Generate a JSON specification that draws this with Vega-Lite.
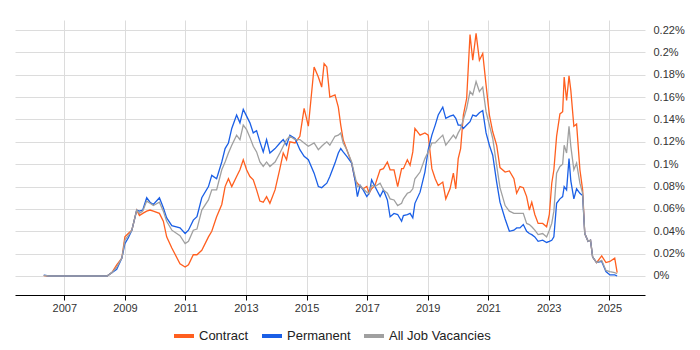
{
  "$schema": "https://vega.github.io/schema/vega-lite/v6.json",
  "width": 630,
  "height": 275,
  "autosize": "none",
  "padding": {"left": 15, "top": 20, "right": 55, "bottom": 55},
  "background": "white",
  "config": {
    "view": {"stroke": null},
    "font": "Liberation Sans"
  },
  "data": {
    "values": [
      {"t": 2006.32, "Contract": 0.0003, "Permanent": 0.0008, "All Job Vacancies": 0.0005},
      {"t": 2006.5, "Contract": 0, "Permanent": 0, "All Job Vacancies": 0},
      {"t": 2008.41, "Contract": 0, "Permanent": 0, "All Job Vacancies": 0},
      {"t": 2008.57, "Contract": 0.003, "Permanent": 0.003, "All Job Vacancies": 0.003},
      {"t": 2008.73, "Contract": 0.010, "Permanent": 0.006, "All Job Vacancies": 0.008},
      {"t": 2008.90, "Contract": 0.016, "Permanent": 0.016, "All Job Vacancies": 0.016},
      {"t": 2009.00, "Contract": 0.035, "Permanent": 0.029, "All Job Vacancies": 0.032},
      {"t": 2009.11, "Contract": 0.038, "Permanent": 0.034, "All Job Vacancies": 0.036},
      {"t": 2009.23, "Contract": 0.041, "Permanent": 0.041, "All Job Vacancies": 0.041},
      {"t": 2009.39, "Contract": 0.059, "Permanent": 0.059, "All Job Vacancies": 0.059},
      {"t": 2009.48, "Contract": 0.054, "Permanent": 0.058, "All Job Vacancies": 0.056},
      {"t": 2009.59, "Contract": 0.056, "Permanent": 0.059, "All Job Vacancies": 0.058},
      {"t": 2009.72, "Contract": 0.058, "Permanent": 0.070, "All Job Vacancies": 0.067},
      {"t": 2009.83, "Contract": 0.059, "Permanent": 0.066, "All Job Vacancies": 0.065},
      {"t": 2009.94, "Contract": 0.058, "Permanent": 0.064, "All Job Vacancies": 0.063},
      {"t": 2010.14, "Contract": 0.056, "Permanent": 0.070, "All Job Vacancies": 0.066},
      {"t": 2010.27, "Contract": 0.049, "Permanent": 0.061, "All Job Vacancies": 0.058},
      {"t": 2010.38, "Contract": 0.035, "Permanent": 0.052, "All Job Vacancies": 0.049},
      {"t": 2010.55, "Contract": 0.025, "Permanent": 0.045, "All Job Vacancies": 0.041},
      {"t": 2010.82, "Contract": 0.011, "Permanent": 0.043, "All Job Vacancies": 0.036},
      {"t": 2010.99, "Contract": 0.008, "Permanent": 0.038, "All Job Vacancies": 0.029},
      {"t": 2011.10, "Contract": 0.010, "Permanent": 0.041, "All Job Vacancies": 0.031},
      {"t": 2011.26, "Contract": 0.019, "Permanent": 0.050, "All Job Vacancies": 0.041},
      {"t": 2011.38, "Contract": 0.019, "Permanent": 0.053, "All Job Vacancies": 0.042},
      {"t": 2011.54, "Contract": 0.023, "Permanent": 0.070, "All Job Vacancies": 0.059},
      {"t": 2011.76, "Contract": 0.035, "Permanent": 0.080, "All Job Vacancies": 0.068},
      {"t": 2011.87, "Contract": 0.040, "Permanent": 0.090, "All Job Vacancies": 0.077},
      {"t": 2012.03, "Contract": 0.053, "Permanent": 0.087, "All Job Vacancies": 0.077},
      {"t": 2012.20, "Contract": 0.064, "Permanent": 0.102, "All Job Vacancies": 0.095},
      {"t": 2012.31, "Contract": 0.080, "Permanent": 0.114, "All Job Vacancies": 0.102},
      {"t": 2012.42, "Contract": 0.087, "Permanent": 0.119, "All Job Vacancies": 0.110},
      {"t": 2012.53, "Contract": 0.080, "Permanent": 0.132, "All Job Vacancies": 0.117},
      {"t": 2012.69, "Contract": 0.089, "Permanent": 0.144, "All Job Vacancies": 0.126},
      {"t": 2012.80, "Contract": 0.095, "Permanent": 0.137, "All Job Vacancies": 0.122},
      {"t": 2012.91, "Contract": 0.104, "Permanent": 0.149, "All Job Vacancies": 0.135},
      {"t": 2013.02, "Contract": 0.095, "Permanent": 0.143, "All Job Vacancies": 0.131},
      {"t": 2013.13, "Contract": 0.089, "Permanent": 0.137, "All Job Vacancies": 0.124},
      {"t": 2013.24, "Contract": 0.086, "Permanent": 0.128, "All Job Vacancies": 0.116},
      {"t": 2013.35, "Contract": 0.077, "Permanent": 0.130, "All Job Vacancies": 0.111},
      {"t": 2013.46, "Contract": 0.067, "Permanent": 0.120, "All Job Vacancies": 0.102},
      {"t": 2013.57, "Contract": 0.066, "Permanent": 0.111, "All Job Vacancies": 0.098},
      {"t": 2013.68, "Contract": 0.071, "Permanent": 0.122, "All Job Vacancies": 0.102},
      {"t": 2013.79, "Contract": 0.065, "Permanent": 0.110, "All Job Vacancies": 0.098},
      {"t": 2013.96, "Contract": 0.077, "Permanent": 0.114, "All Job Vacancies": 0.102},
      {"t": 2014.12, "Contract": 0.096, "Permanent": 0.119, "All Job Vacancies": 0.110},
      {"t": 2014.23, "Contract": 0.110, "Permanent": 0.122, "All Job Vacancies": 0.116},
      {"t": 2014.34, "Contract": 0.104, "Permanent": 0.117, "All Job Vacancies": 0.122},
      {"t": 2014.45, "Contract": 0.120, "Permanent": 0.126, "All Job Vacancies": 0.125},
      {"t": 2014.62, "Contract": 0.119, "Permanent": 0.123, "All Job Vacancies": 0.122},
      {"t": 2014.78, "Contract": 0.125, "Permanent": 0.113, "All Job Vacancies": 0.122},
      {"t": 2014.92, "Contract": 0.150, "Permanent": 0.107, "All Job Vacancies": 0.119},
      {"t": 2015.06, "Contract": 0.134, "Permanent": 0.104, "All Job Vacancies": 0.116},
      {"t": 2015.25, "Contract": 0.187, "Permanent": 0.092, "All Job Vacancies": 0.119},
      {"t": 2015.39, "Contract": 0.178, "Permanent": 0.080, "All Job Vacancies": 0.113},
      {"t": 2015.50, "Contract": 0.169, "Permanent": 0.079, "All Job Vacancies": 0.116},
      {"t": 2015.58, "Contract": 0.190, "Permanent": 0.081, "All Job Vacancies": 0.118},
      {"t": 2015.67, "Contract": 0.187, "Permanent": 0.083, "All Job Vacancies": 0.120},
      {"t": 2015.77, "Contract": 0.160, "Permanent": 0.089, "All Job Vacancies": 0.117},
      {"t": 2015.94, "Contract": 0.162, "Permanent": 0.101, "All Job Vacancies": 0.125},
      {"t": 2016.05, "Contract": 0.151, "Permanent": 0.110, "All Job Vacancies": 0.126},
      {"t": 2016.13, "Contract": 0.135, "Permanent": 0.114, "All Job Vacancies": 0.128},
      {"t": 2016.21, "Contract": 0.122, "Permanent": 0.111, "All Job Vacancies": 0.119},
      {"t": 2016.33, "Contract": 0.113, "Permanent": 0.107, "All Job Vacancies": 0.113},
      {"t": 2016.49, "Contract": 0.101, "Permanent": 0.101, "All Job Vacancies": 0.102},
      {"t": 2016.60, "Contract": 0.086, "Permanent": 0.086, "All Job Vacancies": 0.089},
      {"t": 2016.68, "Contract": 0.083, "Permanent": 0.071, "All Job Vacancies": 0.080},
      {"t": 2016.77, "Contract": 0.080, "Permanent": 0.081, "All Job Vacancies": 0.081},
      {"t": 2016.87, "Contract": 0.078, "Permanent": 0.077, "All Job Vacancies": 0.078},
      {"t": 2016.99, "Contract": 0.080, "Permanent": 0.071, "All Job Vacancies": 0.075},
      {"t": 2017.07, "Contract": 0.074, "Permanent": 0.074, "All Job Vacancies": 0.074},
      {"t": 2017.15, "Contract": 0.078, "Permanent": 0.086, "All Job Vacancies": 0.081},
      {"t": 2017.26, "Contract": 0.081, "Permanent": 0.080, "All Job Vacancies": 0.080},
      {"t": 2017.43, "Contract": 0.095, "Permanent": 0.071, "All Job Vacancies": 0.083},
      {"t": 2017.54, "Contract": 0.096, "Permanent": 0.077, "All Job Vacancies": 0.077},
      {"t": 2017.67, "Contract": 0.102, "Permanent": 0.068, "All Job Vacancies": 0.074},
      {"t": 2017.76, "Contract": 0.095, "Permanent": 0.053, "All Job Vacancies": 0.069},
      {"t": 2017.89, "Contract": 0.095, "Permanent": 0.056, "All Job Vacancies": 0.068},
      {"t": 2018.01, "Contract": 0.080, "Permanent": 0.055, "All Job Vacancies": 0.063},
      {"t": 2018.14, "Contract": 0.096, "Permanent": 0.049, "All Job Vacancies": 0.065},
      {"t": 2018.20, "Contract": 0.096, "Permanent": 0.054, "All Job Vacancies": 0.069},
      {"t": 2018.33, "Contract": 0.104, "Permanent": 0.055, "All Job Vacancies": 0.074},
      {"t": 2018.42, "Contract": 0.099, "Permanent": 0.056, "All Job Vacancies": 0.075},
      {"t": 2018.51, "Contract": 0.111, "Permanent": 0.052, "All Job Vacancies": 0.078},
      {"t": 2018.58, "Contract": 0.132, "Permanent": 0.065, "All Job Vacancies": 0.087},
      {"t": 2018.75, "Contract": 0.126, "Permanent": 0.075, "All Job Vacancies": 0.093},
      {"t": 2018.91, "Contract": 0.128, "Permanent": 0.093, "All Job Vacancies": 0.105},
      {"t": 2019.02, "Contract": 0.126, "Permanent": 0.113, "All Job Vacancies": 0.111},
      {"t": 2019.14, "Contract": 0.096, "Permanent": 0.126, "All Job Vacancies": 0.119},
      {"t": 2019.25, "Contract": 0.087, "Permanent": 0.135, "All Job Vacancies": 0.119},
      {"t": 2019.35, "Contract": 0.081, "Permanent": 0.144, "All Job Vacancies": 0.122},
      {"t": 2019.50, "Contract": 0.084, "Permanent": 0.151, "All Job Vacancies": 0.126},
      {"t": 2019.60, "Contract": 0.069, "Permanent": 0.141, "All Job Vacancies": 0.117},
      {"t": 2019.74, "Contract": 0.078, "Permanent": 0.143, "All Job Vacancies": 0.122},
      {"t": 2019.85, "Contract": 0.092, "Permanent": 0.144, "All Job Vacancies": 0.126},
      {"t": 2019.93, "Contract": 0.078, "Permanent": 0.141, "All Job Vacancies": 0.123},
      {"t": 2020.01, "Contract": 0.105, "Permanent": 0.135, "All Job Vacancies": 0.128},
      {"t": 2020.09, "Contract": 0.114, "Permanent": 0.135, "All Job Vacancies": 0.132},
      {"t": 2020.18, "Contract": 0.144, "Permanent": 0.132, "All Job Vacancies": 0.140},
      {"t": 2020.29, "Contract": 0.159, "Permanent": 0.135, "All Job Vacancies": 0.150},
      {"t": 2020.40, "Contract": 0.216, "Permanent": 0.138, "All Job Vacancies": 0.165},
      {"t": 2020.49, "Contract": 0.193, "Permanent": 0.144, "All Job Vacancies": 0.162},
      {"t": 2020.60, "Contract": 0.217, "Permanent": 0.143, "All Job Vacancies": 0.174},
      {"t": 2020.71, "Contract": 0.193, "Permanent": 0.146, "All Job Vacancies": 0.165},
      {"t": 2020.82, "Contract": 0.199, "Permanent": 0.148, "All Job Vacancies": 0.169},
      {"t": 2020.93, "Contract": 0.171, "Permanent": 0.128, "All Job Vacancies": 0.147},
      {"t": 2021.04, "Contract": 0.144, "Permanent": 0.117, "All Job Vacancies": 0.135},
      {"t": 2021.15, "Contract": 0.129, "Permanent": 0.108, "All Job Vacancies": 0.123},
      {"t": 2021.28, "Contract": 0.117, "Permanent": 0.084, "All Job Vacancies": 0.099},
      {"t": 2021.39, "Contract": 0.097, "Permanent": 0.066, "All Job Vacancies": 0.079},
      {"t": 2021.56, "Contract": 0.093, "Permanent": 0.051, "All Job Vacancies": 0.063},
      {"t": 2021.70, "Contract": 0.094, "Permanent": 0.040, "All Job Vacancies": 0.058},
      {"t": 2021.85, "Contract": 0.087, "Permanent": 0.041, "All Job Vacancies": 0.056},
      {"t": 2021.94, "Contract": 0.074, "Permanent": 0.043, "All Job Vacancies": 0.056},
      {"t": 2022.05, "Contract": 0.080, "Permanent": 0.043, "All Job Vacancies": 0.056},
      {"t": 2022.16, "Contract": 0.079, "Permanent": 0.046, "All Job Vacancies": 0.056},
      {"t": 2022.27, "Contract": 0.071, "Permanent": 0.040, "All Job Vacancies": 0.047},
      {"t": 2022.36, "Contract": 0.059, "Permanent": 0.038, "All Job Vacancies": 0.046},
      {"t": 2022.44, "Contract": 0.066, "Permanent": 0.037, "All Job Vacancies": 0.044},
      {"t": 2022.54, "Contract": 0.055, "Permanent": 0.035, "All Job Vacancies": 0.041},
      {"t": 2022.65, "Contract": 0.047, "Permanent": 0.031, "All Job Vacancies": 0.037},
      {"t": 2022.80, "Contract": 0.047, "Permanent": 0.032, "All Job Vacancies": 0.038},
      {"t": 2022.93, "Contract": 0.044, "Permanent": 0.030, "All Job Vacancies": 0.035},
      {"t": 2023.02, "Contract": 0.055, "Permanent": 0.031, "All Job Vacancies": 0.041},
      {"t": 2023.10, "Contract": 0.083, "Permanent": 0.032, "All Job Vacancies": 0.047},
      {"t": 2023.17, "Contract": 0.095, "Permanent": 0.035, "All Job Vacancies": 0.058},
      {"t": 2023.26, "Contract": 0.125, "Permanent": 0.065, "All Job Vacancies": 0.092},
      {"t": 2023.37, "Contract": 0.145, "Permanent": 0.069, "All Job Vacancies": 0.098},
      {"t": 2023.46, "Contract": 0.147, "Permanent": 0.071, "All Job Vacancies": 0.100},
      {"t": 2023.51, "Contract": 0.178, "Permanent": 0.080, "All Job Vacancies": 0.117},
      {"t": 2023.59, "Contract": 0.157, "Permanent": 0.077, "All Job Vacancies": 0.110},
      {"t": 2023.67, "Contract": 0.179, "Permanent": 0.105, "All Job Vacancies": 0.134},
      {"t": 2023.73, "Contract": 0.166, "Permanent": 0.085, "All Job Vacancies": 0.116},
      {"t": 2023.83, "Contract": 0.134, "Permanent": 0.069, "All Job Vacancies": 0.095},
      {"t": 2023.92, "Contract": 0.136, "Permanent": 0.078, "All Job Vacancies": 0.101},
      {"t": 2024.03, "Contract": 0.095, "Permanent": 0.074, "All Job Vacancies": 0.083},
      {"t": 2024.12, "Contract": 0.077, "Permanent": 0.072, "All Job Vacancies": 0.074},
      {"t": 2024.19, "Contract": 0.038, "Permanent": 0.038, "All Job Vacancies": 0.038},
      {"t": 2024.30, "Contract": 0.031, "Permanent": 0.031, "All Job Vacancies": 0.031},
      {"t": 2024.38, "Contract": 0.032, "Permanent": 0.032, "All Job Vacancies": 0.032},
      {"t": 2024.45, "Contract": 0.017, "Permanent": 0.017, "All Job Vacancies": 0.017},
      {"t": 2024.58, "Contract": 0.012, "Permanent": 0.012, "All Job Vacancies": 0.012},
      {"t": 2024.75, "Contract": 0.018, "Permanent": 0.013, "All Job Vacancies": 0.014},
      {"t": 2024.89, "Contract": 0.012, "Permanent": 0.004, "All Job Vacancies": 0.005},
      {"t": 2025.02, "Contract": 0.013, "Permanent": 0.001, "All Job Vacancies": 0.004},
      {"t": 2025.18, "Contract": 0.016, "Permanent": 0.001, "All Job Vacancies": 0.003},
      {"t": 2025.26, "Contract": 0.003, "Permanent": 0.000, "All Job Vacancies": 0.002}
    ]
  },
  "transform": [
    {"fold": ["Contract", "Permanent", "All Job Vacancies"], "as": ["series", "value"]}
  ],
  "mark": {"type": "line", "strokeWidth": 1.3, "interpolate": "linear"},
  "encoding": {
    "x": {
      "field": "t",
      "type": "quantitative",
      "scale": {"domain": [2005.37, 2026.18], "nice": false, "zero": false},
      "axis": {
        "title": null,
        "values": [2007, 2009, 2011, 2013, 2015, 2017, 2019, 2021, 2023, 2025],
        "format": "d",
        "grid": true,
        "gridColor": "#dcdcdc",
        "domainColor": "#000000",
        "domainWidth": 1,
        "tickColor": "#000000",
        "tickSize": 5,
        "labelFont": "Liberation Sans",
        "labelFontSize": 11,
        "labelColor": "#333333",
        "labelPadding": 2
      }
    },
    "y": {
      "field": "value",
      "type": "quantitative",
      "scale": {"domain": [-0.017, 0.229], "nice": false, "zero": false},
      "axis": {
        "title": null,
        "orient": "right",
        "values": [0, 0.02, 0.04, 0.06, 0.08, 0.1, 0.12, 0.14, 0.16, 0.18, 0.2, 0.22],
        "labelExpr": "format(datum.value / 100, '~%')",
        "grid": true,
        "gridColor": "#dcdcdc",
        "domain": false,
        "ticks": false,
        "labelPadding": 8,
        "labelFont": "Liberation Sans",
        "labelFontSize": 11,
        "labelColor": "#333333"
      }
    },
    "color": {
      "field": "series",
      "type": "nominal",
      "sort": ["Contract", "Permanent", "All Job Vacancies"],
      "scale": {
        "domain": ["Contract", "Permanent", "All Job Vacancies"],
        "range": ["#ff5f1f", "#1a5fe6", "#a0a0a0"]
      },
      "legend": {
        "title": null,
        "orient": "none",
        "direction": "horizontal",
        "legendX": 157,
        "legendY": 304,
        "symbolType": "stroke",
        "symbolStrokeWidth": 4,
        "symbolSize": 400,
        "labelFont": "Liberation Sans",
        "labelFontSize": 13,
        "labelColor": "#222222",
        "labelOffset": 3,
        "columnPadding": 5
      }
    }
  }
}
